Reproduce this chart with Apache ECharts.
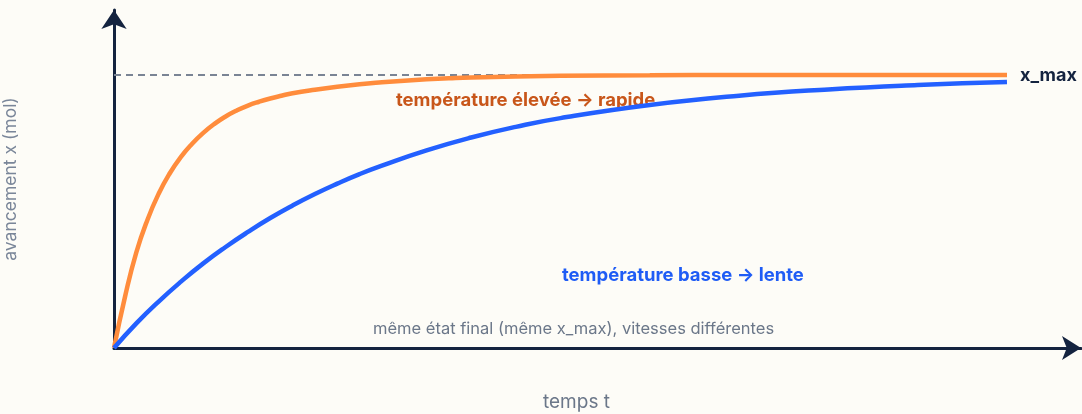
<!DOCTYPE html>
<html><head><meta charset="utf-8">
<script src="https://cdn.jsdelivr.net/npm/echarts@6/dist/echarts.min.js"></script>
<style>html,body{margin:0;padding:0;background:#fdfcf7;}#c{width:1082px;height:414px;}</style>
</head><body><div id="c"></div>
<script>
// time values (arbitrary units)
const tFast = [0, 0.125, 0.25, 0.375, 0.5, 0.625, 0.75, 0.875, 1.0, 1.125, 1.25, 1.375, 1.5, 1.625, 1.75, 1.875, 2.0, 2.25, 2.5, 2.75, 3.0, 3.25, 3.5, 3.75, 4.0, 5.0, 6.0, 7.0, 8.0, 9.0, 10.0];
const xFast = [0, 0.19, 0.35, 0.47, 0.565, 0.64, 0.70, 0.748, 0.788, 0.821, 0.848, 0.87, 0.888, 0.902, 0.914, 0.924, 0.933, 0.946, 0.957, 0.966, 0.973, 0.979, 0.984, 0.988, 0.991, 0.997, 0.999, 1.0, 1.0, 1.0, 1.0];
const tSlow = [0, 0.25, 0.5, 0.75, 1.0, 1.25, 1.5, 1.75, 2.0, 2.25, 2.5, 2.75, 3.0, 3.5, 4.0, 4.5, 5.0, 6.0, 7.0, 8.0, 9.0, 10.0];
const xSlow = [0, 0.09, 0.17, 0.243, 0.31, 0.37, 0.425, 0.476, 0.522, 0.564, 0.602, 0.637, 0.668, 0.724, 0.771, 0.81, 0.842, 0.89, 0.924, 0.947, 0.963, 0.974];
const xMax = 1.0;
const tEnd = 10.0;

const FONT = 'Inter, "Noto Sans", sans-serif';
const chart = echarts.init(document.getElementById('c'), null, {renderer: 'canvas'});
const axisColor = '#14233f';
chart.setOption({
  backgroundColor: '#fdfcf7',
  animation: false,
  grid: {left: 114, right: 1, top: 10, bottom: 66, containLabel: false, outerBoundsMode: 'none'},
  xAxis: {
    type: 'value', min: 0, max: 10.829,
    axisLine: {lineStyle: {color: axisColor, width: 3}, symbol: ['none', 'arrow'], symbolSize: [18, 19]},
    axisTick: {show: false}, axisLabel: {show: false}, splitLine: {show: false}
  },
  yAxis: {
    type: 'value', min: 0, max: 1.238,
    name: 'avancement x (mol)', nameLocation: 'middle', nameGap: 94, nameRotate: 90,
    nameTextStyle: {color: '#7a8699', fontSize: 17.5, fontFamily: FONT},
    axisLine: {show: true, lineStyle: {color: axisColor, width: 3}, symbol: ['none', 'arrow'], symbolSize: [19, 19]},
    axisTick: {show: false}, axisLabel: {show: false}, splitLine: {show: false}
  },
  series: [
    {
      type: 'line', data: [[0, xMax], [tEnd, xMax]], symbol: 'none', silent: true,
      lineStyle: {color: '#7a8494', width: 2, type: [7, 5]}, z: 1
    },
    {
      type: 'line', data: tSlow.map((t, i) => [t, xSlow[i]]), symbol: 'none', smooth: 0.5,
      lineStyle: {color: '#2360ff', width: 4.5}, z: 3
    },
    {
      type: 'line', data: tFast.map((t, i) => [t, xFast[i]]), symbol: 'none', smooth: 0.5,
      lineStyle: {color: '#ff8c3c', width: 4.5}, z: 2
    }
  ],
  graphic: [
    {type: 'text', x: 1020, y: 76, style: {text: 'x_max', fill: '#14233f', font: 'bold 18px ' + FONT, verticalAlign: 'middle'}},
    {type: 'text', x: 396, y: 100, style: {text: 'température élevée → rapide', fill: '#c8561a', font: 'bold 18.5px ' + FONT, verticalAlign: 'middle'}},
    {type: 'text', x: 562, y: 275, style: {text: 'température basse → lente', fill: '#1f5cf5', font: 'bold 18.5px ' + FONT, verticalAlign: 'middle'}},
    {type: 'text', x: 373, y: 329, style: {text: 'même état final (même x_max), vitesses différentes', fill: '#6b7789', font: '16.5px ' + FONT, verticalAlign: 'middle'}},
    {type: 'text', x: 543, y: 402, style: {text: 'temps t', fill: '#6b7789', font: '19px ' + FONT, verticalAlign: 'middle'}}
  ]
});
</script></body></html>
